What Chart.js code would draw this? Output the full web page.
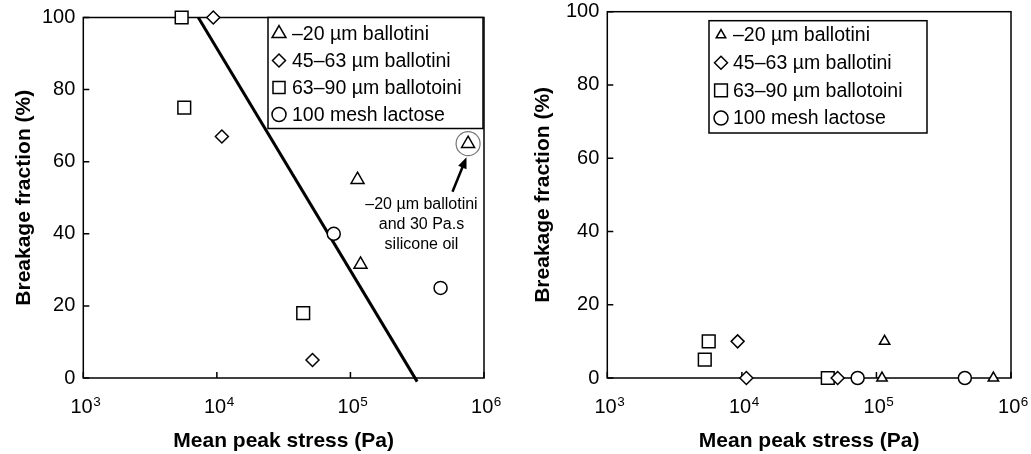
<!DOCTYPE html>
<html>
<head>
<meta charset="utf-8">
<script src="https://cdn.jsdelivr.net/npm/chart.js@4.4.0/dist/chart.umd.min.js"></script>
<style>
    body { margin: 0; background: #fff; }
    #wrapA { position: absolute; left: 0; top: 0; width: 520px; height: 454px; }
    #wrapB { position: absolute; left: 520px; top: 0; width: 511px; height: 454px; }
</style>
</head>
<body>
<div id="wrapA"><canvas id="chartA" width="520" height="454"></canvas></div>
<div id="wrapB"><canvas id="chartB" width="511" height="454"></canvas></div>
<script>
// Axes
const xTickValues = [1e3, 1e4, 1e5, 1e6];
const yTickStep = 20;
const seriesNames = ['–20 µm ballotini', '45–63 µm ballotini', '63–90 µm ballotoini', '100 mesh lactose'];
const noteLines = ['–20 µm ballotini', 'and 30 Pa.s', 'silicone oil'];

// Left panel
const triA_x = [1.13e5, 1.19e5, 7.6e5];
const triA_y = [55, 31.5, 65];
const diaA_x = [9.4e3, 1.09e4, 5.2e4];
const diaA_y = [100, 67, 5];
const sqA_x = [5.45e3, 5.7e3, 4.43e4];
const sqA_y = [100, 75, 18];
const cirA_x = [7.5e4, 4.73e5];
const cirA_y = [40, 25];
const fitA_x = [7.26e3, 3.16e5];
const fitA_y = [100, -1];

// Right panel
const triB_x = [1.1e5, 1.15e5, 7.4e5];
const triB_y = [0, 10, 0];
const diaB_x = [9.3e3, 1.08e4, 5.15e4];
const diaB_y = [10, 0, 0];
const sqB_x = [5.3e3, 5.67e3, 4.35e4];
const sqB_y = [5, 10, 0];
const cirB_x = [7.25e4, 4.54e5];
const cirB_y = [0, 0];

const FONT = '"Liberation Sans", Arial, Helvetica, sans-serif';
const markerStyles = ['triangle', 'rectRot', 'rect', 'circle'];

function pts(xs, ys) {
    return xs.map((x, i) => ({ x: x, y: ys[i] }));
}

function drawMarker(ctx, style, r, x, y) {
    Chart.helpers.drawPoint(ctx, { pointStyle: style, radius: r, borderWidth: 1.5, rotation: 0 }, x, y);
}

// cadre, graduations, légende et annotation
const panelPlugin = {
    id: 'panel',
    beforeDatasetsDraw(chart) {
        const { ctx, chartArea: a, scales: { x, y } } = chart;
        ctx.save();
        ctx.strokeStyle = '#000';
        ctx.lineWidth = 1.5;
        ctx.strokeRect(a.left, a.top, a.right - a.left, a.bottom - a.top);
        ctx.beginPath();
        x.ticks.forEach(t => {
            const px = x.getPixelForValue(t.value);
            ctx.moveTo(px, a.bottom);
            ctx.lineTo(px, a.bottom - 6);
        });
        y.ticks.forEach(t => {
            const py = y.getPixelForValue(t.value);
            ctx.moveTo(a.left, py);
            ctx.lineTo(a.left + 6, py);
        });
        ctx.stroke();

        // libellés 10^n
        ctx.fillStyle = '#000';
        ctx.textBaseline = 'alphabetic';
        ctx.textAlign = 'left';
        x.ticks.forEach(t => {
            const px = x.getPixelForValue(t.value);
            const exp = String(Math.round(Math.log10(t.value)));
            ctx.font = '20px ' + FONT;
            const wb = ctx.measureText('10').width;
            ctx.font = '13.5px ' + FONT;
            const we = ctx.measureText(exp).width;
            const x0 = px - (wb + we) / 2 + 2;
            ctx.font = '20px ' + FONT;
            ctx.fillText('10', x0, a.bottom + 35);
            ctx.font = '13.5px ' + FONT;
            ctx.fillText(exp, x0 + wb + 0.5, a.bottom + 28);
        });
        ctx.restore();
    },
    afterDraw(chart, args, opts) {
        const { ctx, chartArea: a } = chart;
        const L = opts.legend;
        ctx.save();
        const bx = a.left + L.left;
        const by = a.top + L.top;
        ctx.fillStyle = '#fff';
        ctx.fillRect(bx, by, L.width, L.height);
        ctx.strokeStyle = '#000';
        ctx.lineWidth = 1.5;
        ctx.strokeRect(bx, by, L.width, L.height);
        ctx.font = '19.5px ' + FONT;
        ctx.textBaseline = 'middle';
        ctx.textAlign = 'left';
        seriesNames.forEach((name, i) => {
            const ry = by + L.row0 + i * L.step;
            ctx.fillStyle = '#fff';
            ctx.strokeStyle = '#000';
            ctx.lineWidth = 1.5;
            drawMarker(ctx, markerStyles[i], L.radii[i], bx + L.markerX, ry);
            ctx.fillStyle = '#000';
            ctx.fillText(name, bx + L.textX, ry + 1);
        });

        if (opts.note) {
            const el = chart.getDatasetMeta(opts.note.dataset).data[opts.note.index];
            const px = el.x, py = el.y;
            ctx.strokeStyle = '#777';
            ctx.lineWidth = 1.2;
            ctx.beginPath();
            ctx.arc(px, py, 12, 0, Math.PI * 2);
            ctx.stroke();

            // flèche
            const x1 = px - 15.6, y1 = py + 48, x2 = px - 1.6, y2 = py + 13.6;
            const ang = Math.atan2(y2 - y1, x2 - x1);
            ctx.strokeStyle = '#000';
            ctx.fillStyle = '#000';
            ctx.lineWidth = 2.5;
            ctx.beginPath();
            ctx.moveTo(x1, y1);
            ctx.lineTo(x2 - 8 * Math.cos(ang), y2 - 8 * Math.sin(ang));
            ctx.stroke();
            ctx.beginPath();
            ctx.moveTo(x2, y2);
            ctx.lineTo(x2 - 11 * Math.cos(ang) + 4.5 * Math.sin(ang), y2 - 11 * Math.sin(ang) - 4.5 * Math.cos(ang));
            ctx.lineTo(x2 - 11 * Math.cos(ang) - 4.5 * Math.sin(ang), y2 - 11 * Math.sin(ang) + 4.5 * Math.cos(ang));
            ctx.closePath();
            ctx.fill();

            ctx.font = '16px ' + FONT;
            ctx.textAlign = 'center';
            noteLines.forEach((line, i) => {
                ctx.fillText(line, px - 46.6, py + 61.3 + i * 20);
            });
        }
        ctx.restore();
    }
};

function scatterSet(data, style, r) {
    return {
        data: data,
        pointStyle: style,
        pointRadius: r,
        pointBorderWidth: 1.5,
        pointBorderColor: '#000',
        pointBackgroundColor: '#fff',
        showLine: false,
        clip: false
    };
}

function makeChart(canvasId, datasets, cfg) {
    return new Chart(document.getElementById(canvasId).getContext('2d'), {
        type: 'scatter',
        data: { datasets: datasets },
        options: {
            responsive: false,
            animation: false,
            events: [],
            layout: { padding: { left: 0, right: cfg.padRight, top: cfg.padTop, bottom: 0 } },
            plugins: {
                legend: { display: false },
                tooltip: { enabled: false },
                panel: { legend: cfg.legend, note: cfg.note }
            },
            scales: {
                x: {
                    type: 'logarithmic',
                    min: xTickValues[0],
                    max: xTickValues[xTickValues.length - 1],
                    afterBuildTicks: s => { s.ticks = xTickValues.map(v => ({ value: v })); },
                    afterFit: s => { s.height = 76; s.paddingLeft = 0; s.paddingRight = 0; },
                    ticks: { display: false },
                    grid: { display: false, drawTicks: false },
                    border: { display: false },
                    title: {
                        display: true, text: 'Mean peak stress (Pa)', color: '#000',
                        font: { family: FONT, size: 21, weight: 'bold' },
                        padding: { top: 0, bottom: 0 }
                    }
                },
                y: {
                    min: 0,
                    max: 100,
                    afterFit: s => { s.width = cfg.yWidth; s.paddingTop = 0; s.paddingBottom = 0; },
                    ticks: { stepSize: yTickStep, color: '#000', padding: 8, font: { family: FONT, size: 20 } },
                    grid: { display: false, drawTicks: false },
                    border: { display: false },
                    title: {
                        display: true, text: 'Breakage fraction (%)', color: '#000',
                        font: { family: FONT, size: 21, weight: 'bold' },
                        padding: { top: cfg.yTitlePad, bottom: 0 }
                    }
                }
            }
        },
        plugins: [panelPlugin]
    });
}

makeChart('chartA', [
    scatterSet(pts(triA_x, triA_y), 'triangle', 7.5),
    scatterSet(pts(diaA_x, diaA_y), 'rectRot', 6.5),
    scatterSet(pts(sqA_x, sqA_y), 'rect', 9),
    scatterSet(pts(cirA_x, cirA_y), 'circle', 6.5),
    {
        data: pts(fitA_x, fitA_y),
        showLine: true,
        borderColor: '#000',
        borderWidth: 3,
        pointRadius: 0,
        clip: false
    }
], {
    padRight: 36, padTop: 17.5, yWidth: 83.3, yTitlePad: 12,
    legend: { left: 184.7, top: 0, width: 215, height: 111, markerX: 11, textX: 24, row0: 16, step: 27, radii: [8, 6.5, 8.5, 7] },
    note: { dataset: 0, index: 2 }
});

makeChart('chartB', [
    scatterSet(pts(triB_x, triB_y), 'triangle', 6),
    scatterSet(pts(diaB_x, diaB_y), 'rectRot', 6.5),
    scatterSet(pts(sqB_x, sqB_y), 'rect', 9),
    scatterSet(pts(cirB_x, cirB_y), 'circle', 6.5)
], {
    padRight: 20, padTop: 11.7, yWidth: 87.3, yTitlePad: 11,
    legend: { left: 101.7, top: 9, width: 218, height: 112.3, markerX: 12, textX: 24, row0: 14.3, step: 27.7, radii: [5.5, 6.5, 9, 7] },
    note: null
});
</script>
</body>
</html>
